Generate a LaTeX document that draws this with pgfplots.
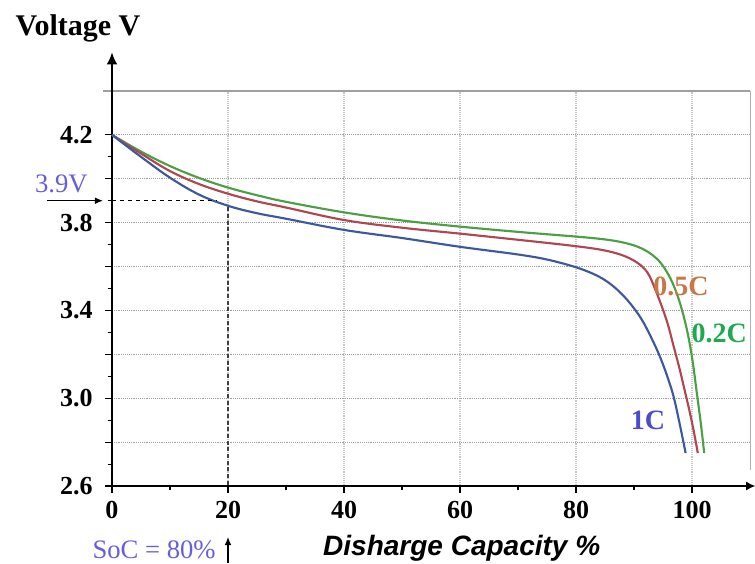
\documentclass[border=0pt]{standalone}
\usepackage{fontspec}
\setmainfont{Liberation Serif}
\newfontfamily\arial{Liberation Sans}
\usepackage{pgfplots}
\pgfplotsset{compat=1.18}
\usetikzlibrary{arrows.meta}

\definecolor{cGreen}{RGB}{75,160,70}
\definecolor{cRed}{RGB}{175,70,80}
\definecolor{cBlue}{RGB}{60,90,155}
\definecolor{lGreen}{RGB}{30,170,80}
\definecolor{lOrange}{RGB}{200,120,70}
\definecolor{lBlue}{RGB}{75,75,210}
\definecolor{lNote}{RGB}{100,95,220}

\begin{document}
\begin{tikzpicture}
% page size: 755 x 563 px at 0.75pt per px
\path[use as bounding box] (-84pt,-57.75pt) rectangle (482.25pt,364.5pt);
\begin{axis}[
    at={(0,0)}, anchor=south west,
    scale only axis,
    width=478.5pt, height=296.25pt,
    xmin=0, xmax=110, ymin=2.6, ymax=4.4,
    clip=false,
    axis line style={draw=none},
    xtick={0,20,40,60,80,100},
    xticklabels={0,20,40,60,80,100},
    ytick={2.6,2.8,3.0,3.2,3.4,3.6,3.8,4.0,4.2},
    yticklabels={2.6,,3.0,,3.4,,3.8,,4.2},
    minor x tick num=1, minor y tick num=1,
    xtick pos=bottom, ytick pos=left,
    tick align=outside,
    major tick length=5pt, minor tick length=3pt,
    tick style={black, line width=0.8pt},
    /pgf/number format/assume math mode=true,
    tick label style={font=\bfseries\fontsize{19.5}{20}\selectfont},
    yticklabel style={xshift=-6pt},
    xticklabel style={yshift=-3pt},
    xmajorgrids, ymajorgrids,
    x grid style={gray!45, densely dotted, line width=0.8pt},
    y grid style={gray!75, densely dotted, line width=0.9pt},
]
% frame and arrowed axes
\draw[gray!75, line width=1.6pt] ([xshift=-6.75pt]rel axis cs:0,1) -- (rel axis cs:1,1);
\draw[gray!60, line width=0.6pt] (rel axis cs:1,1) -- (rel axis cs:1,0.04);
\draw[line width=1.5pt, -{Latex[length=9pt,width=8pt]}] (rel axis cs:0,0) -- ([yshift=29pt]rel axis cs:0,1);
\draw[line width=1.5pt, -{Latex[length=7pt,width=7pt]}] (rel axis cs:0,0) -- ([xshift=4pt]rel axis cs:1,0);

% 0.2C
\addplot[cGreen, line width=1.6pt, smooth, tension=0.6] coordinates {
(0,4.2) (5,4.124) (10,4.058) (15,4.004) (20,3.96) (25,3.925) (30,3.895)
(40,3.847) (50,3.81) (60,3.782) (70,3.758) (77,3.743) (82,3.732) (86,3.72)
(89,3.704) (91.2,3.684) (93,3.656) (94.5,3.62) (95.6,3.578) (96.6,3.528)
(97.6,3.46) (98.5,3.38) (99.3,3.29) (100.1,3.17) (100.8,3.03) (101.5,2.89) (102.1,2.75)
};
% 0.5C
\addplot[cRed, line width=1.6pt, smooth, tension=0.6] coordinates {
(0,4.2) (5,4.115) (10,4.035) (15,3.976) (20,3.932) (25,3.897) (30,3.869)
(40,3.812) (50,3.777) (60,3.75) (70,3.722) (77,3.702) (82,3.686) (85,3.673)
(87.5,3.656) (89.5,3.634) (91.2,3.605) (92.5,3.565) (93.6,3.5) (94.7,3.425)
(95.8,3.34) (96.8,3.24) (97.8,3.14) (98.7,3.04) (99.5,2.95) (100.3,2.85) (101,2.75)
};
% 1C
\addplot[cBlue, line width=1.6pt, smooth, tension=0.6] coordinates {
(0,4.2) (5,4.10) (10,4.005) (15,3.928) (20,3.877) (25,3.843) (30,3.818)
(40,3.767) (50,3.73) (60,3.69) (70,3.655) (75,3.632) (79.6,3.6) (82.6,3.571)
(85,3.538) (87.3,3.49) (89.4,3.43) (91.3,3.36) (92.9,3.28) (94.3,3.2)
(95.6,3.11) (96.8,3.01) (97.9,2.88) (98.9,2.75)
};

% guide lines
\draw[black, dashed, line width=0.9pt] (axis cs:0,3.9) -- (axis cs:18,3.9);
\draw[gray!50!black, densely dashed, line width=0.9pt] (axis cs:20,3.87) -- (axis cs:20,2.6);
\draw[line width=0.9pt, -{Latex[length=6pt,width=5pt]}] ([xshift=-48.75pt]axis cs:0,3.9) -- ([xshift=-6.75pt]axis cs:0,3.9);
\draw[line width=0.9pt, -{Latex[length=6pt,width=5pt]}] ([yshift=-57.75pt]axis cs:20,2.6) -- ([yshift=-38.25pt]axis cs:20,2.6);

% texts
\node[lNote, anchor=east, font=\fontsize{20}{22}\selectfont, inner sep=0pt] at ([xshift=-18pt, yshift=13pt]axis cs:0,3.9) {3.9V};
\node[lNote, anchor=east, font=\fontsize{20}{22}\selectfont, inner sep=0pt] at ([xshift=-9pt, yshift=-48pt]axis cs:20,2.6) {SoC = 80\%};
\node[font=\arial\bfseries\itshape\fontsize{21}{23}\selectfont, inner sep=0pt] at ([yshift=-46.5pt]axis cs:60.3,2.6) {Disharge Capacity \%};
\node[anchor=base, font=\bfseries\fontsize{22.5}{24}\selectfont, inner sep=0pt] at ([xshift=-25.5pt, yshift=41.25pt]rel axis cs:0,1) {Voltage V};

\node[lOrange, font=\bfseries\fontsize{21}{23}\selectfont, inner sep=0pt] at (axis cs:98.1,3.51) {0.5C};
\node[lGreen, font=\bfseries\fontsize{21}{23}\selectfont, inner sep=0pt] at (axis cs:104.7,3.294) {0.2C};
\node[lBlue, font=\bfseries\fontsize{21}{23}\selectfont, inner sep=0pt] at (axis cs:92.4,2.899) {1C};
\end{axis}
\end{tikzpicture}
\end{document}
